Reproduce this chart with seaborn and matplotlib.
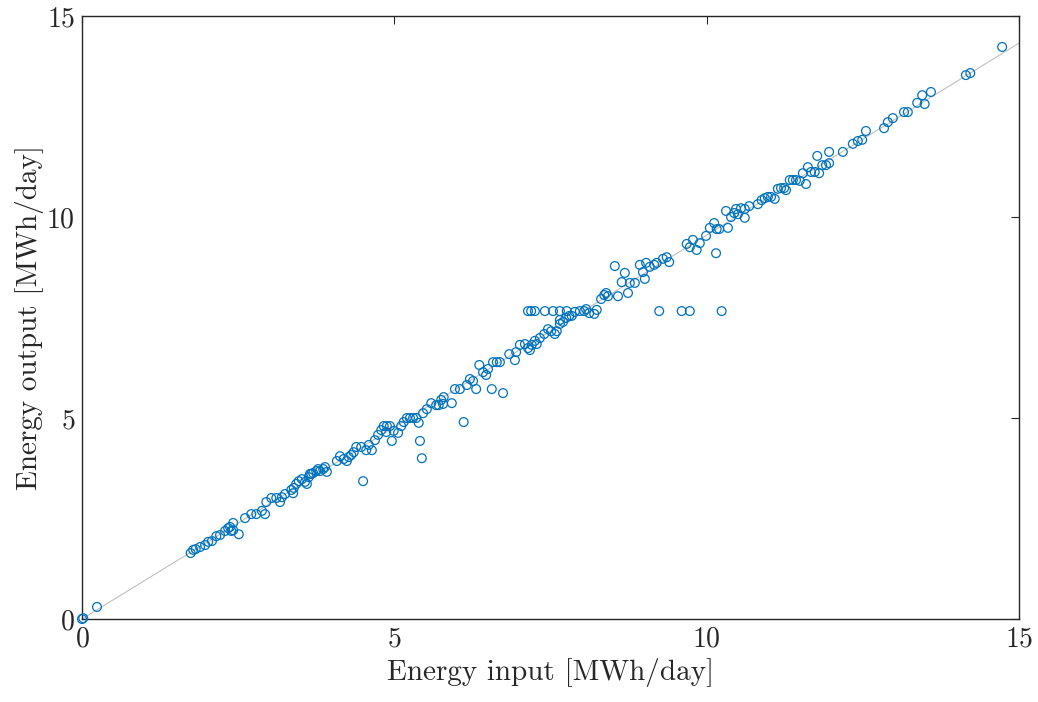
import matplotlib
matplotlib.use("Agg")
import matplotlib.pyplot as plt
import seaborn as sns
import numpy as np
import pandas as pd

# Daily energy balance: input vs. output (MWh/day)
energy_in = [
    0.00, 0.02, 0.24,
    1.74, 1.78, 1.82, 1.89, 1.97, 2.02, 2.08, 2.15, 2.21, 2.29, 2.34, 2.37, 2.42, 2.39, 2.42, 2.51,
    2.61, 2.71, 2.79, 2.88, 2.93, 2.95, 3.03, 3.11, 3.20, 3.25, 3.17,
    3.35, 3.39, 3.43, 3.38, 3.47, 3.52, 3.57, 3.60, 3.63, 3.67, 3.70, 3.75, 3.78, 3.81, 3.86, 3.89, 3.92, 3.65,
    4.08, 4.13, 4.19, 4.24, 4.27, 4.31, 4.35, 4.39, 4.47, 4.50, 4.55, 4.59, 4.64, 4.69, 4.74, 4.79, 4.83,
    4.88, 4.93, 4.87, 4.96, 4.99, 5.06, 5.11, 5.15, 5.20, 5.25, 5.30, 5.35, 5.39, 5.41, 5.44, 5.46, 5.52,
    5.59, 5.67, 5.71, 5.75, 5.78, 5.79, 5.92, 5.97, 6.05,
    6.11, 6.16, 6.21, 6.26, 6.31, 6.36, 6.42, 6.47, 6.50, 6.58, 6.64, 6.56, 6.74, 6.69, 6.84, 6.93, 6.95,
    7.01, 7.09, 7.14, 7.17, 7.20, 7.25, 7.28, 7.33, 7.40, 7.46, 7.51, 7.57, 7.60, 7.65, 7.70, 7.65, 7.75,
    7.80, 7.84, 7.89, 7.97, 8.04, 8.07, 8.12, 8.20, 8.24, 8.31, 8.36, 8.39, 8.42, 8.53, 8.58, 8.64, 8.69,
    8.74, 8.77, 8.85, 8.93, 8.98, 9.01, 9.03, 9.09, 9.16, 9.20, 9.30, 9.36, 9.40,
    7.14, 7.19, 7.25, 7.41, 7.54, 7.65, 7.76, 9.24, 9.60, 9.73, 10.24,
    9.68, 9.73, 9.78, 9.84, 9.89, 9.99, 10.05, 10.12, 10.15, 10.16, 10.20, 10.31, 10.34, 10.39, 10.44,
    10.47, 10.50, 10.55, 10.61, 10.68, 10.61,
    10.82, 10.88, 10.93, 10.98, 11.03, 11.09, 11.14, 11.19, 11.24, 11.27, 11.33, 11.38, 11.43, 11.49,
    11.54, 11.59, 11.62, 11.67, 11.73, 11.77, 11.80, 11.85, 11.91, 11.96, 11.96, 12.18,
    12.34, 12.42, 12.49, 12.55, 12.84, 12.90, 12.98, 13.16, 13.22, 13.37, 13.45, 13.49, 13.59,
    14.15, 14.22, 14.73,
]
energy_out = [
    0.00, 0.02, 0.30,
    1.64, 1.72, 1.74, 1.79, 1.84, 1.92, 1.94, 2.06, 2.09, 2.19, 2.26, 2.29, 2.39, 2.19, 2.21, 2.11,
    2.51, 2.61, 2.61, 2.69, 2.61, 2.91, 3.01, 3.01, 3.03, 3.11, 2.91,
    3.21, 3.26, 3.36, 3.13, 3.43, 3.48, 3.41, 3.36, 3.53, 3.61, 3.63, 3.68, 3.73, 3.68, 3.73, 3.78, 3.66, 3.61,
    3.93, 4.05, 3.98, 3.93, 4.03, 4.08, 4.15, 4.28, 4.28, 3.43, 4.20, 4.33, 4.20, 4.45, 4.58, 4.70, 4.80,
    4.80, 4.80, 4.65, 4.43, 4.68, 4.63, 4.80, 4.90, 5.00, 5.00, 5.00, 5.00, 4.88, 4.43, 4.00, 5.12, 5.22,
    5.37, 5.32, 5.32, 5.45, 5.35, 5.52, 5.37, 5.72, 5.72,
    4.90, 5.82, 5.97, 5.92, 5.72, 6.32, 6.14, 6.07, 6.22, 6.39, 6.39, 5.72, 5.62, 6.39, 6.59, 6.44, 6.64,
    6.82, 6.84, 6.74, 6.69, 6.82, 6.92, 6.84, 6.99, 7.09, 7.21, 7.16, 7.09, 7.16, 7.34, 7.39, 7.44, 7.49,
    7.54, 7.54, 7.64, 7.66, 7.66, 7.71, 7.61, 7.59, 7.69, 7.96, 8.06, 8.11, 8.03, 8.78, 8.03, 8.38, 8.61,
    8.11, 8.36, 8.36, 8.81, 8.63, 8.46, 8.86, 8.76, 8.81, 8.86, 8.96, 9.00, 8.88,
    7.66, 7.66, 7.66, 7.66, 7.66, 7.66, 7.66, 7.66, 7.66, 7.66, 7.66,
    9.33, 9.25, 9.43, 9.18, 9.35, 9.53, 9.73, 9.85, 9.10, 9.70, 9.70, 10.15, 9.73, 10.00, 10.10,
    10.20, 10.07, 10.22, 10.20, 10.27, 9.98,
    10.32, 10.42, 10.47, 10.50, 10.50, 10.45, 10.70, 10.72, 10.72, 10.67, 10.92, 10.92, 10.92, 10.90,
    11.09, 10.82, 11.24, 11.12, 11.12, 11.52, 11.09, 11.29, 11.29, 11.62, 11.34, 11.62,
    11.82, 11.89, 11.92, 12.14, 12.21, 12.36, 12.46, 12.61, 12.61, 12.84, 13.03, 12.81, 13.11,
    13.53, 13.58, 14.23,
]

# Reference line through the origin
fit_slope = 0.955
line_x = [0.0, 15.0]

x_ticks = [0, 5, 10, 15]
y_ticks = [0, 5, 10, 15]
x_label = "Energy input [MWh/day]"
y_label = "Energy output [MWh/day]"

df = pd.DataFrame({"energy_in": energy_in, "energy_out": energy_out})

sns.set_theme(style="white")
plt.rcParams["font.family"] = ["cmr10", "DejaVu Serif"]
plt.rcParams["axes.formatter.use_mathtext"] = True
plt.rcParams["mathtext.fontset"] = "cm"

text_color = "#262626"
fig = plt.figure(figsize=(10.38, 7.02), dpi=100)
ax = fig.add_axes([0.079, 0.1182, 0.9027, 0.859])

ax.plot(line_x, [fit_slope * v for v in line_x], color="#c0c0c0", linewidth=0.8, zorder=1)

sns.scatterplot(data=df, x="energy_in", y="energy_out", ax=ax, marker="o", s=40,
                facecolor="none", edgecolor="#0072BD", linewidth=0.9, zorder=3,
                legend=False, clip_on=False)

ax.set_xlim(0, 15)
ax.set_ylim(0, 15)
ax.set_xticks(x_ticks)
ax.set_yticks(y_ticks)
ax.set_xlabel(x_label, fontsize=21, color=text_color, labelpad=4)
ax.set_ylabel(y_label, fontsize=21, color=text_color, labelpad=2)

for side in ["left", "right", "top", "bottom"]:
    ax.spines[side].set_visible(True)
    ax.spines[side].set_color(text_color)
    ax.spines[side].set_linewidth(1.0)

ax.tick_params(axis="both", direction="in", length=6, width=0.8, color=text_color,
               labelsize=20, labelcolor=text_color, top=True, right=True, pad=5)

fig.savefig("out.png", dpi=100)
